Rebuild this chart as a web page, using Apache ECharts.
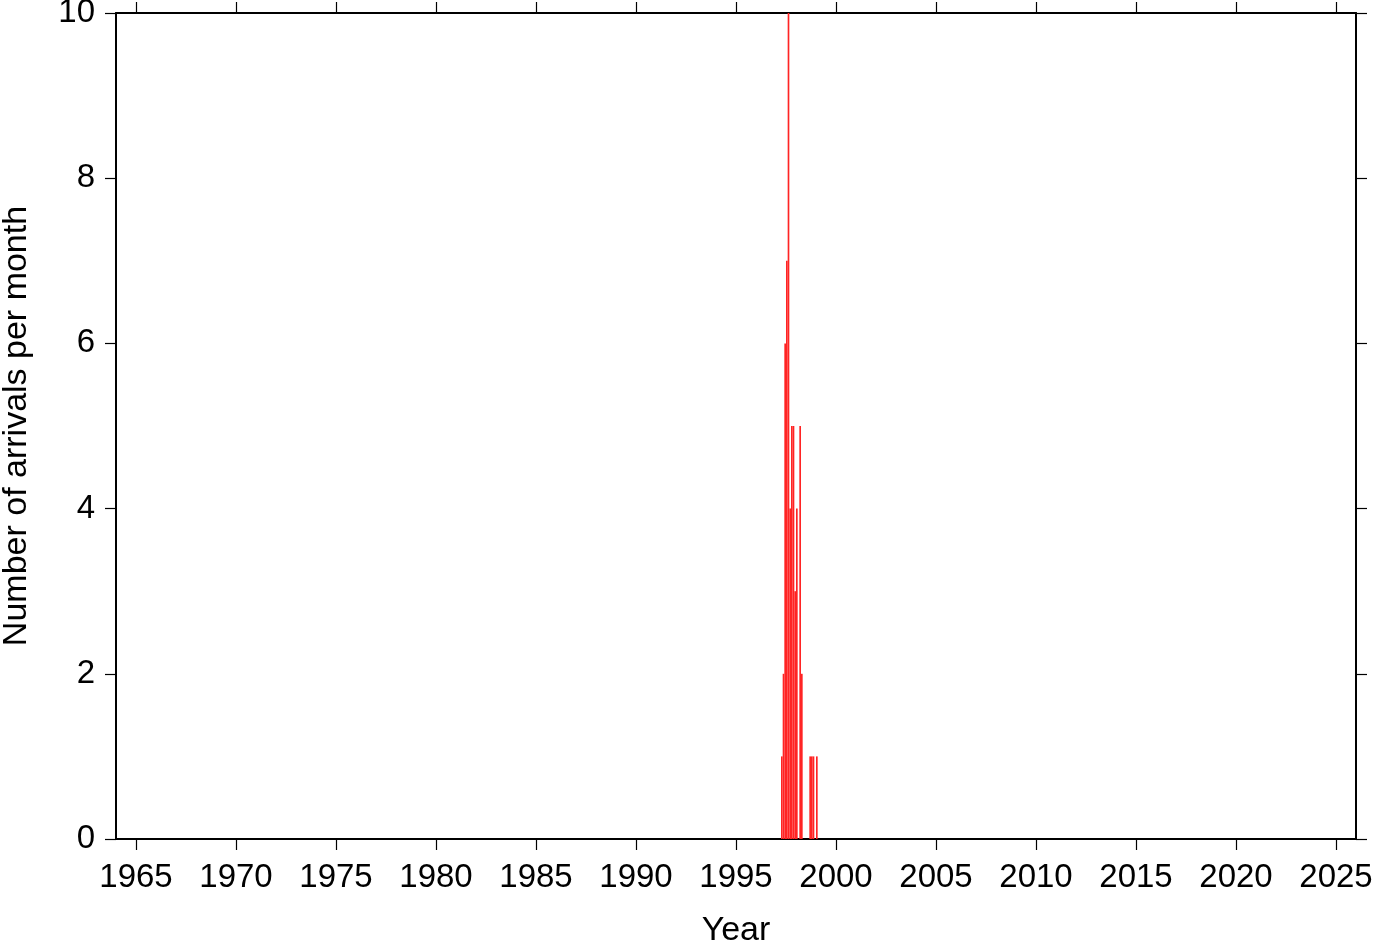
<!DOCTYPE html>
<html>
<head>
<meta charset="utf-8">
<script src="https://cdn.jsdelivr.net/npm/echarts@6/dist/echarts.min.js"></script>
<style>
html,body{margin:0;padding:0;background:#fff;}
#c{width:1382px;height:942px;}
</style>
</head>
<body>
<div id="c"></div>
<script>
// Monthly arrival counts (month as 'YYYY-MM')
const months = ['1997-04','1997-05','1997-06','1997-07','1997-08','1997-09','1997-10','1997-11','1997-12','1998-01','1998-02','1998-03','1998-04','1998-09','1998-10','1998-11','1999-01'];
const counts = [1,2,6,7,10,4,5,5,3,4,0,5,2,1,1,1,1];
const yearTicks = [1965,1970,1975,1980,1985,1990,1995,2000,2005,2010,2015,2020,2025];
const yTicks = [0,2,4,6,8,10];

const xMin = 1964, xMax = 2026;
// bar centred on the middle of its month, in decimal years
const barData = months.map((m, i) => {
  const [y, mo] = m.split('-').map(Number);
  return [y + (mo - 1) / 12 + 1 / 24, counts[i]];
});

const FONT = 'Liberation Sans';
const FS = 33;
const NFS = 34;
const lineStyle = {color: '#000', width: 2};
const tickStyle = {color: '#000', width: 1.2};

const chart = echarts.init(document.getElementById('c'), null, {renderer: 'canvas'});
chart.setOption({
  animation: false,
  backgroundColor: '#fff',
  grid: {left: 116, top: 13, right: 26, bottom: 103, containLabel: false, outerBoundsMode: 'none'},
  xAxis: [{
    type: 'value', position: 'bottom', min: xMin, max: xMax,
    name: 'Year', nameLocation: 'middle', nameGap: 75,
    nameTextStyle: {fontFamily: FONT, fontSize: NFS, color: '#000'},
    axisLine: {show: true, onZero: false, lineStyle: lineStyle},
    axisTick: {show: true, inside: false, length: 11, lineStyle: tickStyle, customValues: yearTicks},
    axisLabel: {show: true, margin: 22, fontFamily: FONT, fontSize: FS, color: '#000', customValues: yearTicks, formatter: v => String(v)},
    splitLine: {show: false}
  }, {
    type: 'value', position: 'top', min: xMin, max: xMax,
    axisLine: {show: true, onZero: false, lineStyle: lineStyle},
    axisTick: {show: true, inside: false, length: 11, lineStyle: tickStyle, customValues: yearTicks},
    axisLabel: {show: false},
    splitLine: {show: false}
  }],
  yAxis: [{
    type: 'value', position: 'left', min: 0, max: 10, interval: 2,
    name: 'Number of arrivals per month', nameLocation: 'middle', nameGap: 82,
    nameTextStyle: {fontFamily: FONT, fontSize: NFS, color: '#000'},
    axisLine: {show: true, onZero: false, lineStyle: lineStyle},
    axisTick: {show: true, inside: false, length: 11, lineStyle: tickStyle},
    axisLabel: {show: true, margin: 21, fontFamily: FONT, fontSize: FS, color: '#000', formatter: v => String(v)},
    splitLine: {show: false}
  }, {
    type: 'value', position: 'right', min: 0, max: 10, interval: 2,
    axisLine: {show: true, onZero: false, lineStyle: lineStyle},
    axisTick: {show: true, inside: false, length: 11, lineStyle: tickStyle},
    axisLabel: {show: false},
    splitLine: {show: false}
  }],
  series: [{
    type: 'bar', xAxisIndex: 0, yAxisIndex: 0,
    data: barData,
    barWidth: 1.67,
    itemStyle: {color: '#ff2424'},
    z: 1
  }]
});
</script>
</body>
</html>
